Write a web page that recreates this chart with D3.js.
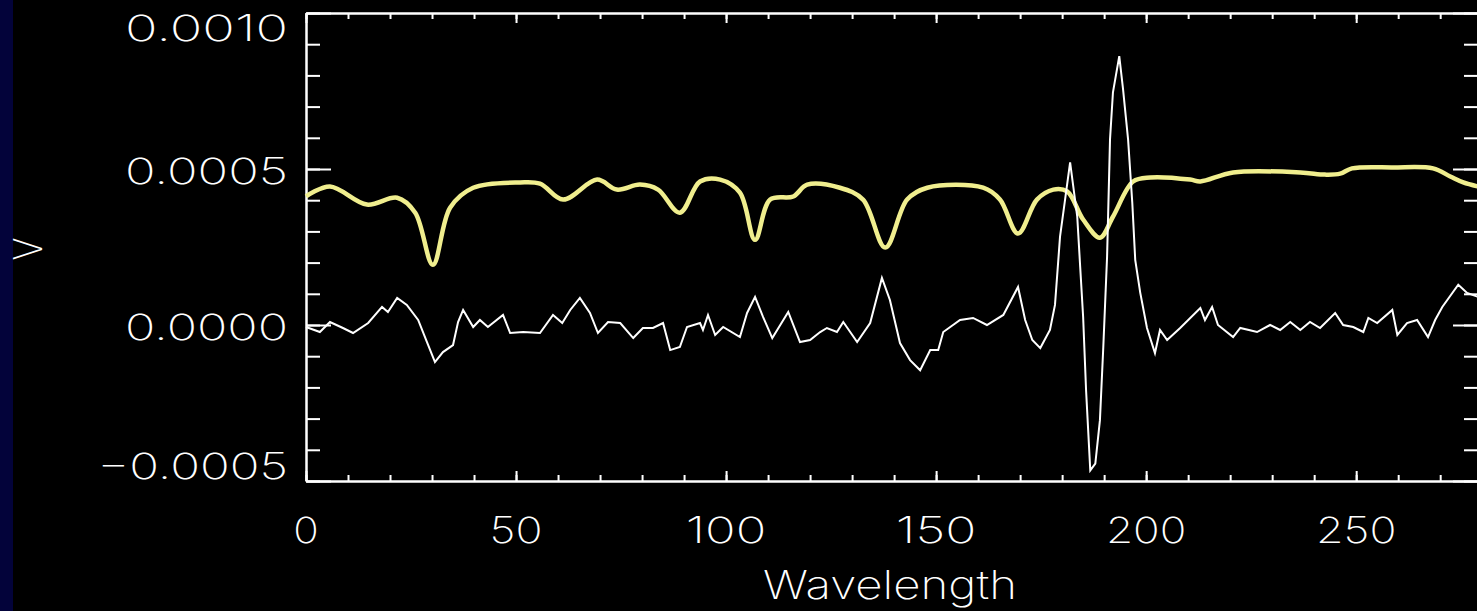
<!DOCTYPE html>
<html>
<head>
<meta charset="utf-8">
<script src="https://cdn.jsdelivr.net/npm/d3@7"></script>
<style>
  html, body { margin: 0; padding: 0; background: #000; overflow: hidden; }
  svg { display: block; }
  text { font-family: "Inter", "DejaVu Sans", sans-serif; font-weight: 200; fill: #fff; }
</style>
</head>
<body>
<svg id="chart" width="1477" height="611"></svg>
<script>
// ---- data ----
const yellowWavelength = [0, 5.7, 14.5, 21.7, 26, 30.2, 34.3, 39.8, 51, 55.7, 61.2, 69.3, 74, 79.5, 83.8, 89, 93.8, 98.6, 103.3, 106.9, 110.5, 116, 119.3, 127.1, 132.6, 137.9, 143.1, 147.9, 161.2, 165.2, 169.5, 174, 177.9, 181.2, 185, 189, 192.1, 196.9, 201, 210.5, 212.9, 220.7, 236.7, 242.6, 246.2, 249, 258.8, 268.3, 272.4, 275.5, 279];
const yellowValue = [0.000412, 0.000444, 0.000386, 0.000408, 0.000360, 0.000193, 0.000376, 0.000440, 0.000457, 0.000453, 0.000402, 0.000466, 0.000434, 0.000450, 0.000434, 0.000360, 0.000460, 0.000466, 0.000424, 0.000273, 0.000402, 0.000412, 0.000450, 0.000440, 0.000402, 0.000248, 0.000402, 0.000440, 0.000440, 0.000402, 0.000293, 0.000402, 0.000434, 0.000428, 0.000338, 0.000280, 0.000347, 0.000460, 0.000473, 0.000466, 0.000460, 0.000489, 0.000489, 0.000482, 0.000485, 0.000502, 0.000505, 0.000502, 0.000476, 0.000457, 0.000444];

const whiteWavelength = [0, 3.3, 5.7, 8.8, 11.2, 14.8, 18.1, 19.5, 21.7, 24, 26.7, 28.8, 30.7, 32.6, 35, 36.2, 37.4, 39.8, 41.4, 43.3, 46.9, 48.6, 51.7, 55.7, 58.8, 61, 62.9, 65.2, 67.6, 69.5, 71.9, 74.8, 77.9, 80.2, 82.6, 85, 86.7, 89, 90.7, 93.8, 94.5, 95.7, 97.4, 99.3, 103.3, 105, 106.9, 108.8, 111, 112.9, 114.8, 117.6, 120, 122.4, 124, 126.4, 127.9, 131.2, 134.3, 137.1, 139, 141.4, 143.8, 146.2, 148.6, 150.5, 151.7, 155.7, 158.8, 162.1, 166, 169.5, 171.2, 172.9, 174.8, 177.1, 178.3, 179.5, 180.7, 181.9, 183.6, 184.3, 185, 185.7, 186.7, 187.9, 189, 189.8, 190.7, 191.4, 192.1, 193.6, 194.5, 195.7, 196.7, 197.4, 198.6, 200.2, 202.1, 203.3, 205, 208.1, 212.9, 214, 215.7, 217.1, 220.7, 222.4, 226.4, 229.5, 231.9, 234.3, 236.7, 239, 241.4, 245, 246.9, 249.3, 251.7, 252.9, 255, 258.6, 259.8, 262.1, 264.5, 267.1, 268.8, 270.5, 274.3, 276.4, 279];
const whiteValue = [-0.0000064, -0.0000225, 0.0000096, -0.0000096, -0.0000257, 0.0000064, 0.0000579, 0.0000418, 0.0000868, 0.0000643, 0.0000161, -0.0000547, -0.000119, -0.0000868, -0.0000643, 0.0000096, 0.0000482, -0.0000064, 0.0000161, -0.0000064, 0.0000322, -0.0000257, -0.0000225, -0.0000257, 0.0000322, 0.0000064, 0.0000482, 0.0000868, 0.0000386, -0.0000257, 0.0000096, 0.0000064, -0.0000418, -0.0000096, -0.0000096, 0.0000064, -0.0000804, -0.0000707, -0.0000064, 0.0000064, -0.000016, 0.000032, -0.000032, -0.0000064, -0.0000386, 0.0000386, 0.00009, 0.0000257, -0.0000418, 0, 0.0000418, -0.0000547, -0.0000482, -0.0000225, -0.0000096, -0.0000225, 0.0000096, -0.0000547, 0.0000064, 0.000151, 0.0000804, -0.0000579, -0.0001125, -0.000145, -0.0000804, -0.0000804, -0.0000225, 0.0000161, 0.0000225, 0, 0.0000322, 0.000122, 0.000016, -0.0000482, -0.000074, -0.000016, 0.0000643, 0.000283, 0.000402, 0.000521, 0.000347, 0.000186, 0.0000257, -0.000209, -0.000466, -0.000444, -0.000305, -0.0000707, 0.000219, 0.000595, 0.000746, 0.000862, 0.000756, 0.000595, 0.000392, 0.000209, 0.000103, -0.0000096, -0.00009, -0.000016, -0.0000482, -0.0000096, 0.0000547, 0.000016, 0.0000579, 0, -0.0000386, -0.0000096, -0.0000225, 0, -0.000016, 0.0000096, -0.000016, 0.0000096, -0.0000096, 0.0000386, 0, -0.0000064, -0.0000225, 0.0000225, 0.0000064, 0.0000482, -0.000032, 0.0000064, 0.000016, -0.0000386, 0.000016, 0.0000579, 0.000129, 0.000103, 0.00009];

const xTickValues = [0, 50, 100, 150, 200, 250];
const xTickLabels = ["0", "50", "100", "150", "200", "250"];
const yTickValues = [0.0010, 0.0005, 0.0000, -0.0005];
const yTickLabels = ["0.0010", "0.0005", "0.0000", "\u22120.0005"];
const xTitle = "Wavelength";
const yTitle = "V";

// ---- layout ----
const W = 1477, H = 611;
const pLeft = 306, pRight = 1478, pTop = 13, pBottom = 481;

const svg = d3.select("#chart");
svg.append("rect").attr("x", 0).attr("y", 0).attr("width", W).attr("height", H).attr("fill", "#000");
svg.append("rect").attr("x", 0).attr("y", 0).attr("width", 13).attr("height", H).attr("fill", "#03033a");

const x = d3.scaleLinear().domain([0, 279]).range([pLeft, pRight]);
const y = d3.scaleLinear().domain([-0.0005, 0.0010]).range([pBottom, pTop]);

const xMinor = d3.range(0, 280, 10);
const yMinor = d3.range(0, 16).map(k => -0.0005 + k * 0.0001);

function drawAxis(axisGen, tx, ty) {
  const g = svg.append("g").attr("transform", `translate(${tx},${ty})`).call(axisGen);
  g.selectAll("path.domain").attr("stroke", "#fff").attr("stroke-width", 2);
  g.selectAll(".tick line").attr("stroke", "#fff").attr("stroke-width", 2);
  g.selectAll("text").remove();
  return g;
}
// minor ticks
drawAxis(d3.axisBottom(x).tickValues(xMinor).tickSizeInner(-6).tickSizeOuter(0).tickFormat(""), 0, pBottom);
drawAxis(d3.axisTop(x).tickValues(xMinor).tickSizeInner(-6).tickSizeOuter(0).tickFormat(""), 0, pTop);
drawAxis(d3.axisLeft(y).tickValues(yMinor).tickSizeInner(-14).tickSizeOuter(0).tickFormat(""), pLeft, 0);
drawAxis(d3.axisRight(y).tickValues(yMinor).tickSizeInner(-14).tickSizeOuter(0).tickFormat(""), pRight, 0);
// major ticks
drawAxis(d3.axisBottom(x).tickValues(xTickValues).tickSizeInner(-10).tickSizeOuter(0).tickFormat(""), 0, pBottom);
drawAxis(d3.axisTop(x).tickValues(xTickValues).tickSizeInner(-10).tickSizeOuter(0).tickFormat(""), 0, pTop);
drawAxis(d3.axisLeft(y).tickValues(yTickValues).tickSizeInner(-25).tickSizeOuter(0).tickFormat(""), pLeft, 0);
drawAxis(d3.axisRight(y).tickValues(yTickValues).tickSizeInner(-25).tickSizeOuter(0).tickFormat(""), pRight, 0);

// ---- lines ----
const yellowData = yellowWavelength.map((w, i) => [w, yellowValue[i]]);
const whiteData = whiteWavelength.map((w, i) => [w, whiteValue[i]]);

svg.append("path")
  .datum(yellowData)
  .attr("fill", "none")
  .attr("stroke", "#f0ee8e")
  .attr("stroke-width", 4.5)
  .attr("stroke-linejoin", "round")
  .attr("d", d3.line().x(d => x(d[0])).y(d => y(d[1])).curve(d3.curveCatmullRom.alpha(0.5)));

svg.append("path")
  .datum(whiteData)
  .attr("fill", "none")
  .attr("stroke", "#fff")
  .attr("stroke-width", 2)
  .attr("stroke-linejoin", "miter")
  .attr("d", d3.line().x(d => x(d[0])).y(d => y(d[1])));

// ---- labels ----
const charW = 27.5;
const fs = 36;
yTickLabels.forEach((lab, i) => {
  const cy = Math.max(pTop + 15, Math.min(pBottom - 15, y(yTickValues[i]) + 2));
  svg.append("text")
    .attr("x", 288).attr("y", cy + 13)
    .attr("text-anchor", "end")
    .attr("font-size", fs)
    .attr("textLength", charW * lab.length - 2)
    .attr("lengthAdjust", "spacingAndGlyphs")
    .text(lab);
});
xTickLabels.forEach((lab, i) => {
  svg.append("text")
    .attr("x", x(xTickValues[i])).attr("y", 543)
    .attr("text-anchor", "middle")
    .attr("font-size", fs)
    .attr("textLength", charW * lab.length - 2)
    .attr("lengthAdjust", "spacingAndGlyphs")
    .text(lab);
});
svg.append("text")
  .attr("x", (pLeft + pRight) / 2 - 2).attr("y", 599)
  .attr("text-anchor", "middle")
  .attr("font-size", 39)
  .attr("textLength", 254)
  .attr("lengthAdjust", "spacingAndGlyphs")
  .text(xTitle);
svg.append("text")
  .attr("transform", `translate(42,249) rotate(-90)`)
  .attr("text-anchor", "middle")
  .attr("font-size", 39)
  .attr("textLength", 23)
  .attr("lengthAdjust", "spacingAndGlyphs")
  .text(yTitle);
</script>
</body>
</html>
